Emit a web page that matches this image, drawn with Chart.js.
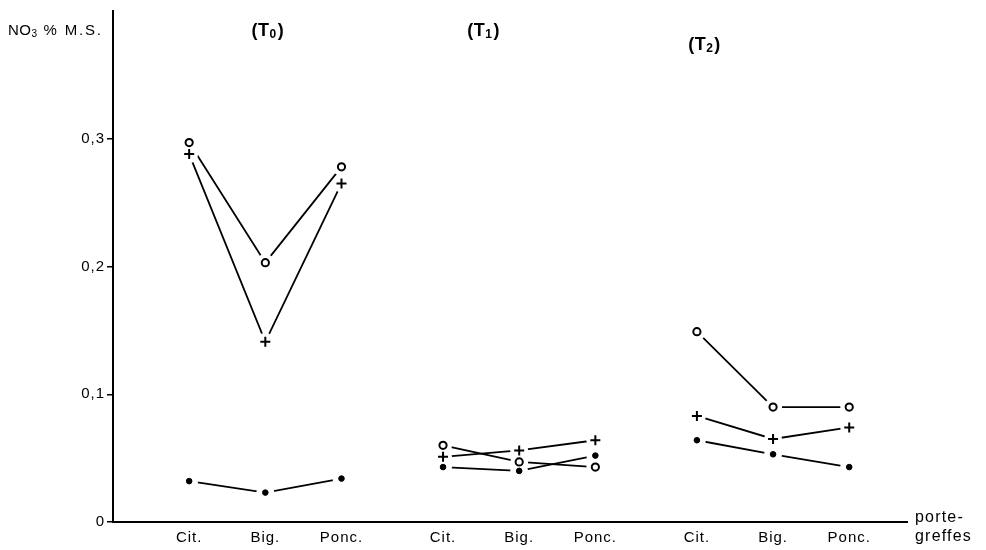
<!DOCTYPE html>
<html>
<head>
<meta charset="utf-8">
<script src="https://cdn.jsdelivr.net/npm/chart.js"></script>
<style>
  html, body { margin: 0; padding: 0; background: #fff; }
  #wrap { width: 986px; height: 550px; }
</style>
</head>
<body>
<div id="wrap"><canvas id="c" width="986" height="550"></canvas></div>
<script>
// ---- data ----
const rootstocks = ['Cit.', 'Big.', 'Ponc.'];
const treatments = ['0', '1', '2'];           // (T0), (T1), (T2)
const circleValues = [0.297, 0.203, 0.278, 0.060, 0.047, 0.043, 0.149, 0.090, 0.090];
const plusValues   = [0.288, 0.141, 0.265, 0.051, 0.056, 0.064, 0.083, 0.065, 0.074];
const dotValues    = [0.032, 0.023, 0.034, 0.043, 0.040, 0.052, 0.064, 0.053, 0.043];
const yTickValues  = [0, 0.1, 0.2, 0.3];
const yTickLabels  = ['0', '0,1', '0,2', '0,3'];
const yAxisTitle   = ['NO', '3', ' % M.S.'];
const xAxisTitle   = ['porte-', 'greffes'];

// ---- category slots (blank spacer labels separate the three groups) ----
const LEAD = 3, GROUP = 10, STEP = 3, NSLOTS = 32;
const slot = (g, c) => LEAD + GROUP * g + STEP * c;
const labels = Array(NSLOTS).fill('');
treatments.forEach((t, g) => rootstocks.forEach((r, c) => { labels[slot(g, c)] = r; }));

function fullSeries(values) {
  const d = Array(NSLOTS).fill(null);
  treatments.forEach((t, g) => rootstocks.forEach((r, c) => { d[slot(g, c)] = values[g * 3 + c]; }));
  return d;
}
function groupSeries(values, g) {
  const d = Array(NSLOTS).fill(null);
  rootstocks.forEach((r, c) => { d[slot(g, c)] = values[g * 3 + c]; });
  return d;
}

const seriesDefs = [
  { values: circleValues, style: 'circle', radius: 3.6, bw: 2,   bg: '#fff' },
  { values: plusValues,   style: 'cross',  radius: 5,   bw: 2,   bg: '#000' },
  { values: dotValues,    style: 'circle', radius: 2.8, bw: 1,   bg: '#000' }
];

const datasets = [];
seriesDefs.forEach(s => {
  treatments.forEach((t, g) => {
    datasets.push({
      data: groupSeries(s.values, g), showLine: true, spanGaps: true,
      pointRadius: 0, borderColor: '#000', borderWidth: 1.8, order: 3
    });
  });
});
seriesDefs.forEach(s => {
  datasets.push({
    data: fullSeries(s.values), showLine: false, pointStyle: 'circle',
    pointRadius: 9, pointBackgroundColor: '#fff', pointBorderColor: '#fff',
    pointBorderWidth: 0, order: 2
  });
});
seriesDefs.forEach(s => {
  datasets.push({
    data: fullSeries(s.values), showLine: false, pointStyle: s.style,
    pointRadius: s.radius, pointBackgroundColor: s.bg, pointBorderColor: '#000',
    pointBorderWidth: s.bw, order: 1
  });
});

const FONT = "'Liberation Sans', Arial, sans-serif";

const textPlugin = {
  id: 'texts',
  beforeDraw(chart) {
    chart.ctx.letterSpacing = '1px';
  },
  afterDraw(chart) {
    const ctx = chart.ctx, a = chart.chartArea, xs = chart.scales.x;
    ctx.save();
    // x axis line
    ctx.strokeStyle = '#000';
    ctx.lineWidth = 2;
    ctx.beginPath();
    ctx.moveTo(a.left - 1, a.bottom);
    ctx.lineTo(a.right + 8, a.bottom);
    ctx.stroke();

    ctx.fillStyle = '#000';
    ctx.textBaseline = 'alphabetic';
    ctx.textAlign = 'left';

    // y-axis title: NO3 % M.S.
    ctx.letterSpacing = '0.5px';
    ctx.font = '15px ' + FONT;
    let x = 8;
    ctx.fillText(yAxisTitle[0], x, 35);
    x += ctx.measureText(yAxisTitle[0]).width;
    ctx.font = '10px ' + FONT;
    ctx.fillText(yAxisTitle[1], x, 37);
    x += ctx.measureText(yAxisTitle[1]).width;
    ctx.font = '15px ' + FONT;
    ctx.letterSpacing = '1.8px';
    ctx.fillText(yAxisTitle[2], x, 35);

    // x-axis title
    ctx.letterSpacing = '1.2px';
    ctx.font = '16px ' + FONT;
    ctx.fillText(xAxisTitle[0], 915, 522);
    ctx.fillText(xAxisTitle[1], 915, 541);

    // treatment titles (T0) (T1) (T2)
    const titlePos = [[6.1, 36], [14.6, 36], [23.3, 50]];
    ctx.letterSpacing = '0.5px';
    treatments.forEach((t, i) => {
      const big = "bold 18px 'Liberation Sans Narrow', " + FONT;
      const small = "bold 12px 'Liberation Sans Narrow', " + FONT;
      ctx.font = big;
      const w1 = ctx.measureText('(T').width, w3 = ctx.measureText(')').width;
      ctx.font = small;
      const w2 = ctx.measureText(t).width;
      const total = w1 + w2 + w3 + 1;
      let cx = xs.getPixelForValue(titlePos[i][0]) - total / 2;
      const by = titlePos[i][1];
      ctx.font = big;
      ctx.fillText('(T', cx, by);
      cx += w1;
      ctx.font = small;
      ctx.fillText(t, cx, by + 2);
      cx += w2 + 1;
      ctx.font = big;
      ctx.fillText(')', cx, by);
    });
    ctx.restore();
    ctx.letterSpacing = '0px';
  }
};

new Chart(document.getElementById('c'), {
  type: 'line',
  data: { labels: labels, datasets: datasets },
  options: {
    responsive: false,
    animation: false,
    events: [],
    layout: { padding: { top: 9, right: 86, left: 0, bottom: 0 } },
    plugins: { legend: { display: false }, tooltip: { enabled: false }, title: { display: false } },
    scales: {
      x: {
        type: 'category',
        border: { display: false },
        grid: { display: false, drawTicks: false },
        ticks: { autoSkip: false, maxRotation: 0, minRotation: 0, color: '#000',
                 font: { family: FONT, size: 15 }, padding: 7 },
        afterFit(s) { s.height = 28; }
      },
      y: {
        min: 0, max: 0.4,
        border: { display: true, color: '#000', width: 2 },
        grid: { drawOnChartArea: false, drawTicks: true, tickLength: 6, color: '#000', lineWidth: 1.5 },
        ticks: {
          color: '#000', font: { family: FONT, size: 15 }, padding: 2,
          callback(v) { const i = yTickValues.findIndex(t => Math.abs(t - v) < 1e-9); return i >= 0 ? yTickLabels[i] : ''; }
        },
        afterBuildTicks(s) { s.ticks = yTickValues.map(v => ({ value: v })); },
        afterFit(s) { s.width = 113; }
      }
    }
  },
  plugins: [textPlugin]
});
</script>
</body>
</html>
